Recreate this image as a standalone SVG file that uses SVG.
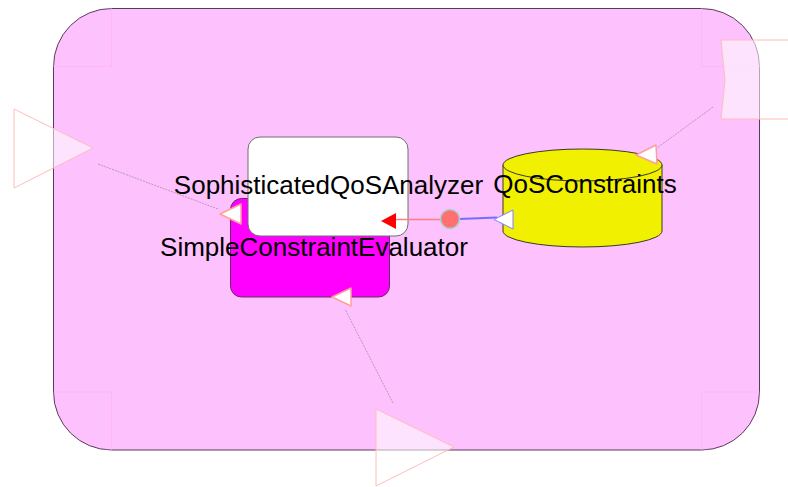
<svg xmlns="http://www.w3.org/2000/svg" width="788" height="487" viewBox="0 0 788 487">
  <style>
    .label { font-family: "Liberation Sans", Arial, sans-serif; font-size: 26px; fill: #000; }
    .ghost { fill: #ffffff; fill-opacity: 0.55; stroke: #ffbcbc; stroke-width: 1; }
    .corner { fill: none; stroke: #ffaaff; stroke-opacity: 0.5; stroke-width: 1; }
    .head { fill: #ffffff; stroke: #ff9e9e; stroke-width: 1.5; stroke-linejoin: round; }
    .link { fill: none; stroke: #b89ab8; stroke-width: 1; stroke-dasharray: 2 1; }
  </style>
  <defs>
    <clipPath id="container-clip">
      <rect x="53.5" y="8.5" width="706" height="441.5" rx="58" ry="58"/>
    </clipPath>
  </defs>

  <!-- container -->
  <g id="container">
    <rect x="53.5" y="8.5" width="706" height="441.5" rx="58" ry="58" fill="#fdc1fd" stroke="#5a3a5a" stroke-width="1"/>
    <g clip-path="url(#container-clip)">
      <rect class="corner" x="53.5" y="8.5" width="58" height="58"/>
      <rect class="corner" x="701.5" y="8.5" width="58" height="58"/>
      <rect class="corner" x="53.5" y="392" width="58" height="58"/>
      <rect class="corner" x="701.5" y="392" width="58" height="58"/>
    </g>
  </g>

  <!-- ports outside the container -->
  <g id="port-left">
    <polygon class="ghost" points="14,109 93,148 14,188"/>
  </g>
  <g id="port-right">
    <path class="ghost" d="M721,40 L800,40 L800,119 L721,119 L725,80 Z"/>
  </g>
  <g id="port-bottom">
    <polygon class="ghost" points="376,409 454,447 376,486"/>
  </g>

  <!-- nodes -->
  <g id="SimpleConstraintEvaluator">
    <rect x="230.5" y="198.5" width="159" height="98.5" rx="11" ry="11" fill="#ff00ff" stroke="#6a2a6a" stroke-width="1"/>
  </g>
  <g id="SophisticatedQoSAnalyzer">
    <rect x="248" y="137" width="160" height="99" rx="12" ry="12" fill="#ffffff" stroke="#707070" stroke-width="1"/>
  </g>
  <g id="QoSConstraints">
    <path d="M503,165 L503,231 A79.5,16 0 0 0 662,231 L662,165" fill="#f0f000" stroke="#3a3a20" stroke-width="1"/>
    <ellipse cx="582.5" cy="165" rx="79.5" ry="16" fill="#f0f000" stroke="#3a3a20" stroke-width="1"/>
  </g>

  <!-- connectors -->
  <g id="connectors">
    <line class="link" x1="98" y1="164" x2="218" y2="209"/>
    <polygon class="head" points="220,214 241,204 241,224"/>

    <line class="link" x1="713" y1="107" x2="657" y2="148"/>
    <polygon class="head" points="636,155 656,145 657,164"/>

    <line class="link" x1="393" y1="403" x2="345" y2="309"/>
    <polygon class="head" points="332,297 351,288 351,306"/>

    <line x1="396" y1="219.5" x2="441" y2="219.5" stroke="#ff8080" stroke-width="1.5"/>
    <polygon points="381,221 396,213 396,229" fill="#ff0000"/>

    <line x1="459" y1="219" x2="497" y2="217.5" stroke="#7070ff" stroke-width="2"/>
    <polygon points="494,219.5 513,210 513,229" fill="#ffffff" stroke="#8080ff" stroke-width="1"/>

    <circle cx="450" cy="219" r="9.5" fill="#ff7070" stroke="#a8d0d0" stroke-width="1.5"/>
  </g>

  <!-- labels -->
  <text class="label" x="328.5" y="194" text-anchor="middle">SophisticatedQoSAnalyzer</text>
  <text class="label" x="314" y="256" text-anchor="middle">SimpleConstraintEvaluator</text>
  <text class="label" x="585" y="193" text-anchor="middle">QoSConstraints</text>
</svg>
